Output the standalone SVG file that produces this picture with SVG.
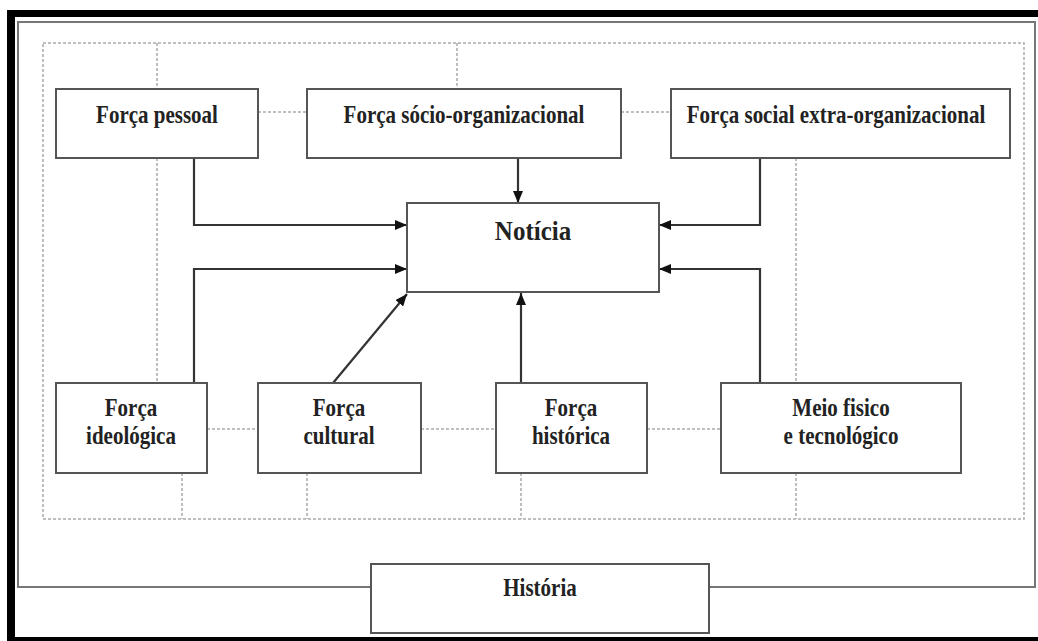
<svg xmlns="http://www.w3.org/2000/svg" width="1038" height="641" viewBox="0 0 1038 641">
<defs>
<marker id="ah" viewBox="0 0 12 10" refX="12" refY="5" markerWidth="12" markerHeight="10" markerUnits="userSpaceOnUse" orient="auto">
<path d="M0,0 L12,5 L0,10 Z" fill="#111"/>
</marker>
</defs>
<style>
.box{fill:#fff;stroke:#555;stroke-width:2}
.t{font-family:"Liberation Serif","Times New Roman",serif;font-weight:bold;font-size:21px;fill:#222;text-anchor:middle}
.big{font-size:25px}
.dash{fill:none;stroke:#aaa;stroke-width:1.5;stroke-dasharray:3 2}
.con{fill:none;stroke:#333;stroke-width:2.2}
.frame{fill:none;stroke:#777;stroke-width:2}
</style>
<rect x="0" y="0" width="1038" height="641" fill="#fff"/>
<!-- black border -->
<g id="border">
<rect x="7" y="10" width="1031" height="7" fill="#000"/>
<rect x="7" y="10" width="8" height="631" fill="#000"/>
<rect x="7" y="637" width="1031" height="4" fill="#000"/>
</g>
<!-- outer frame -->
<g id="outer-frame">
<path class="frame" d="M371,587 L18,587 L18,22 L1035,22 L1035,587 L709,587"/>
</g>
<!-- dashed guide lines -->
<g id="guides">
<rect class="dash" x="43" y="43" width="981" height="476"/>
<path class="dash" d="M157,43 V89 M457,43 V89 M157,158 V383 M796,158 V383 M182,473 V519 M307,473 V519 M521,473 V519 M796,473 V519 M258,112 H307 M621,112 H671 M207,429 H258 M421,429 H496 M647,429 H721"/>
</g>
<!-- connectors -->
<g id="connectors">
<path class="con" d="M194,158 V225 H407" marker-end="url(#ah)"/>
<path class="con" d="M194,383 V269 H407" marker-end="url(#ah)"/>
<path class="con" d="M333,383 L407,294" marker-end="url(#ah)"/>
<path class="con" d="M521,383 V293" marker-end="url(#ah)"/>
<path class="con" d="M518,158 V203" marker-end="url(#ah)"/>
<path class="con" d="M760,158 V225 H659" marker-end="url(#ah)"/>
<path class="con" d="M760,383 V269 H659" marker-end="url(#ah)"/>
</g>
<g id="forca-pessoal">
<rect class="box" x="56" y="89" width="202" height="69"/>
<text class="t" transform="translate(157 123) scale(1 1.2)">Força pessoal</text>
</g>
<g id="forca-socio">
<rect class="box" x="307" y="89" width="314" height="69"/>
<text class="t" transform="translate(464 123) scale(1 1.2)">Força sócio-organizacional</text>
</g>
<g id="forca-social-extra">
<rect class="box" x="671" y="89" width="339" height="69"/>
<text class="t" transform="translate(836 123) scale(1 1.2)">Força social extra-organizacional</text>
</g>
<g id="noticia">
<rect class="box" x="407" y="203" width="252" height="89"/>
<text class="t big" transform="translate(533 240) scale(1 1.12)">Notícia</text>
</g>
<g id="forca-ideologica">
<rect class="box" x="56" y="383" width="151" height="90"/>
<text class="t" transform="translate(131 416) scale(1 1.2)"><tspan x="0" y="0">Força</tspan><tspan x="0" y="23">ideológica</tspan></text>
</g>
<g id="forca-cultural">
<rect class="box" x="258" y="383" width="163" height="90"/>
<text class="t" transform="translate(339 416) scale(1 1.2)"><tspan x="0" y="0">Força</tspan><tspan x="0" y="23">cultural</tspan></text>
</g>
<g id="forca-historica">
<rect class="box" x="496" y="383" width="151" height="90"/>
<text class="t" transform="translate(571 416) scale(1 1.2)"><tspan x="0" y="0">Força</tspan><tspan x="0" y="23">histórica</tspan></text>
</g>
<g id="meio-fisico">
<rect class="box" x="721" y="383" width="240" height="90"/>
<text class="t" transform="translate(841 416) scale(1 1.2)"><tspan x="0" y="0">Meio fisico</tspan><tspan x="0" y="23">e tecnológico</tspan></text>
</g>
<g id="historia">
<rect class="box" x="371" y="564" width="338" height="69"/>
<text class="t" transform="translate(540 596) scale(1 1.2)">História</text>
</g>
</svg>
